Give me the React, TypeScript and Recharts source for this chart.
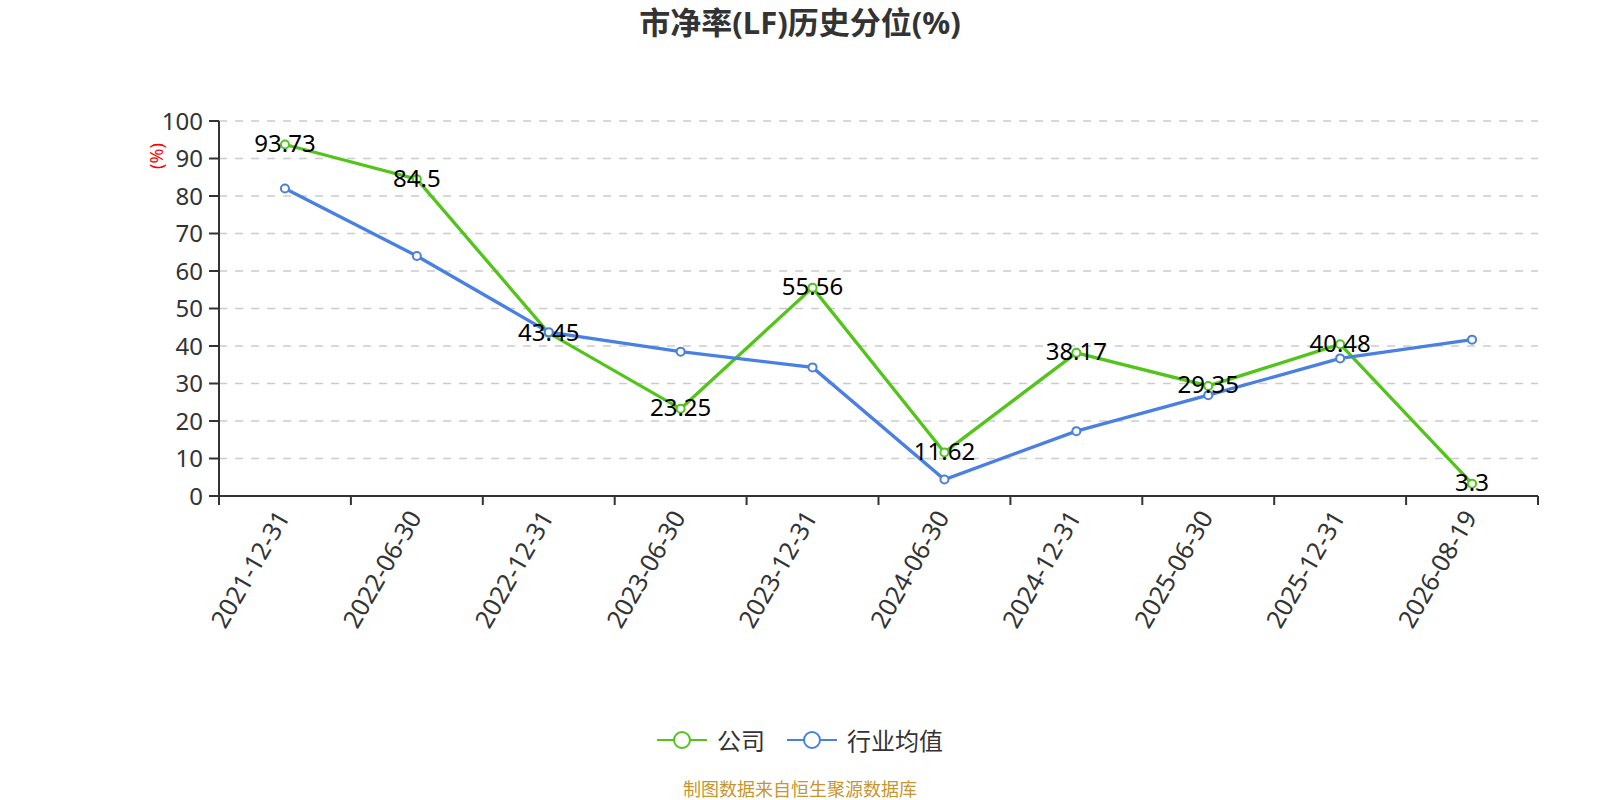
import { LineChart, Line, XAxis, YAxis, CartesianGrid, LabelList } from "recharts";

const dates = [
  "2021-12-31",
  "2022-06-30",
  "2022-12-31",
  "2023-06-30",
  "2023-12-31",
  "2024-06-30",
  "2024-12-31",
  "2025-06-30",
  "2025-12-31",
  "2026-08-19",
];
const company = [93.73, 84.5, 43.45, 23.25, 55.56, 11.62, 38.17, 29.35, 40.48, 3.3];
const industry = [82.0, 64.0, 43.7, 38.5, 34.3, 4.4, 17.3, 26.9, 36.7, 41.7];
const yTicks = [0, 10, 20, 30, 40, 50, 60, 70, 80, 90, 100];

const GREEN = "#52c41a";
const BLUE = "#4a80e2";
const FONT = "'Noto Sans', 'Noto Sans CJK SC', sans-serif";

const W = 1600;
const H = 800;
const M = { top: 121, right: 62, left: 159, bottom: 274 };
const Y_W = 60;
const X_H = 30;
const PLOT_W = W - M.left - M.right - Y_W;
const BAND = PLOT_W / dates.length;

const data = dates.map((d, i) => ({ date: d, company: company[i], industry: industry[i] }));

function DateTick(props: any) {
  const { x, y, payload, index } = props;
  const left = x - BAND / 2;
  const lx = x - 3;
  const ly = y + 8;
  return (
    <g>
      <line x1={left} x2={left} y1={y - 8} y2={y + 1} stroke="#333" strokeWidth={2} />
      {index === dates.length - 1 && (
        <line x1={x + BAND / 2} x2={x + BAND / 2} y1={y - 8} y2={y + 1} stroke="#333" strokeWidth={2} />
      )}
      <text
        x={lx}
        y={ly}
        transform={`rotate(-60, ${lx}, ${ly})`}
        textAnchor="end"
        dominantBaseline="central"
        fontSize={25}
        fill="#333"
        fontFamily={FONT}
      >
        {payload.value}
      </text>
    </g>
  );
}

function ValueLabel(props: any) {
  const { x, y, value } = props;
  return (
    <text
      x={x}
      y={y - 2}
      textAnchor="middle"
      dominantBaseline="central"
      fontSize={24}
      fill="#000"
      fontFamily={FONT}
    >
      {value}
    </text>
  );
}

function LegendItem({ color, label }: { color: string; label: string }) {
  return (
    <div style={{ display: "flex", alignItems: "center", marginRight: 22 }}>
      <svg width={50} height={20} style={{ marginRight: 10 }}>
        <line x1={0} x2={50} y1={10} y2={10} stroke={color} strokeWidth={2} />
        <circle cx={25} cy={10} r={8} fill="#fff" stroke={color} strokeWidth={2} />
      </svg>
      <span style={{ fontSize: 24, color: "#333" }}>{label}</span>
    </div>
  );
}

export default function App() {
  return (
    <div style={{ position: "relative", width: W, height: H, background: "#fff", fontFamily: FONT }}>
      <style>{`body{margin:0}`}</style>
      <div
        style={{
          position: "absolute",
          top: 3,
          left: 0,
          width: W,
          textAlign: "center",
          fontSize: 31,
          fontWeight: 700,
          color: "#333",
          lineHeight: "38px",
        }}
      >
        市净率(LF)历史分位(%)
      </div>
      <LineChart width={W} height={H} data={data} margin={M}>
        <CartesianGrid vertical={false} stroke="#ccc" strokeDasharray="8 8" strokeWidth={1.5} />
        <XAxis
          dataKey="date"
          scale="band"
          height={X_H}
          interval={0}
          axisLine={{ stroke: "#333", strokeWidth: 2 }}
          tickLine={false}
          tick={<DateTick />}
        />
        <YAxis
          width={Y_W}
          domain={[0, 100]}
          ticks={yTicks}
          interval={0}
          axisLine={{ stroke: "#333", strokeWidth: 2 }}
          tickLine={{ stroke: "#333", strokeWidth: 2 }}
          tickSize={10}
          tickMargin={6}
          tick={{ fontSize: 24, fill: "#333", fontFamily: FONT }}
        />
        <Line
          type="linear"
          dataKey="company"
          stroke={GREEN}
          strokeWidth={3.3}
          dot={{ r: 4, fill: "#fff", stroke: GREEN, strokeWidth: 2 }}
          isAnimationActive={false}
        >
          <LabelList dataKey="company" content={<ValueLabel />} />
        </Line>
        <Line
          type="linear"
          dataKey="industry"
          stroke={BLUE}
          strokeWidth={3.3}
          dot={{ r: 4, fill: "#fff", stroke: BLUE, strokeWidth: 2 }}
          isAnimationActive={false}
        />
      </LineChart>
      <div
        style={{
          position: "absolute",
          left: 156,
          top: 156,
          transform: "translate(-50%, -50%) rotate(-90deg)",
          color: "red",
          fontSize: 18,
          whiteSpace: "nowrap",
        }}
      >
        (%)
      </div>
      <div
        style={{
          position: "absolute",
          top: 722,
          left: 11,
          width: W,
          display: "flex",
          justifyContent: "center",
        }}
      >
        <LegendItem color={GREEN} label="公司" />
        <LegendItem color={BLUE} label="行业均值" />
      </div>
      <div
        style={{
          position: "absolute",
          top: 778,
          left: 0,
          width: W,
          textAlign: "center",
          fontSize: 18,
          color: "#c8952f",
          lineHeight: "22px",
        }}
      >
        制图数据来自恒生聚源数据库
      </div>
    </div>
  );
}
